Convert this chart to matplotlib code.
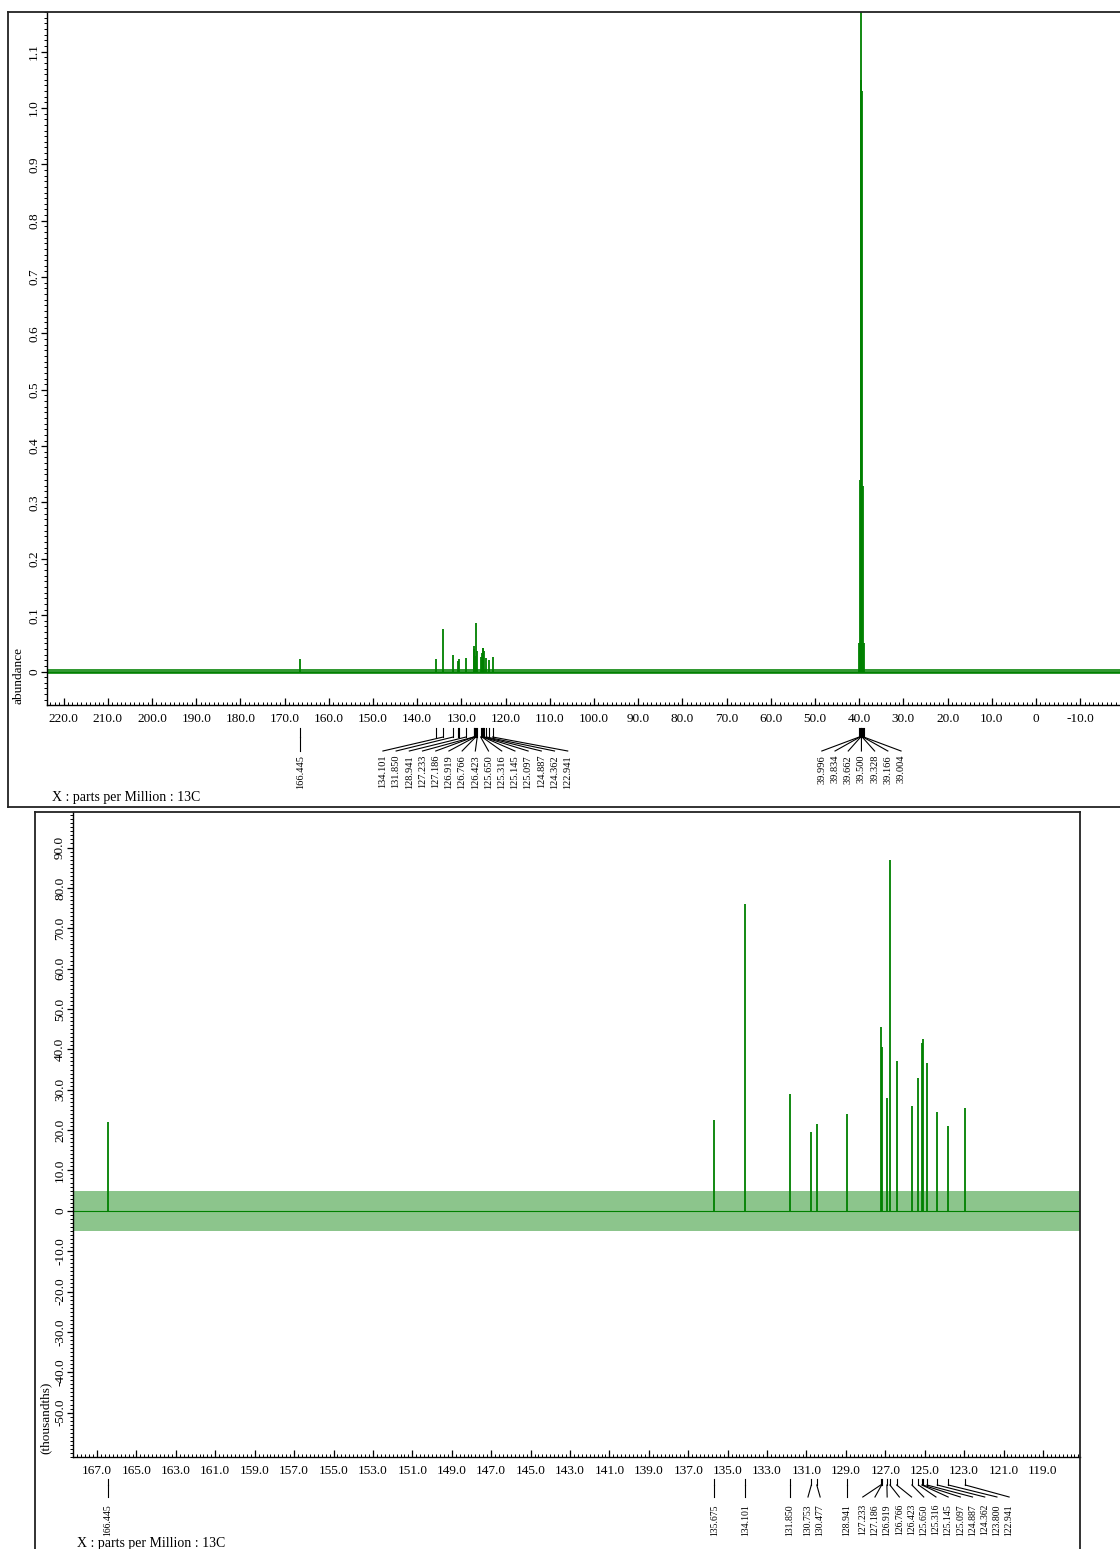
import numpy as np
import matplotlib.pyplot as plt
from matplotlib import transforms
from matplotlib.lines import Line2D
from matplotlib.ticker import MultipleLocator, FixedLocator, FuncFormatter

plt.rcParams['font.family'] = ['Liberation Serif', 'DejaVu Serif']

# 13C peak list (ppm) and peak heights (abundance)
peak_ppm = [166.445, 135.675, 134.101, 131.850, 130.753, 130.477, 128.941,
            127.233, 127.186, 126.919, 126.766, 126.423, 125.650, 125.316,
            125.145, 125.097, 124.887, 124.362, 123.800, 122.941]
peak_height = [0.0220, 0.0225, 0.0760, 0.0290, 0.0195, 0.0215, 0.0240,
               0.0455, 0.0405, 0.0280, 0.0870, 0.0370, 0.0260, 0.0330,
               0.0415, 0.0425, 0.0367, 0.0245, 0.0210, 0.0255]

# DMSO-d6 solvent multiplet
solvent_ppm = [39.996, 39.834, 39.662, 39.500, 39.328, 39.166, 39.004]
solvent_height = [0.05, 0.34, 1.05, 1.35, 1.03, 0.33, 0.05]

# baseline noise half-width (abundance)
noise_level = 0.005

# peaks picked in the full-range view
top_labels = [166.445, 134.101, 131.850, 128.941, 127.233, 127.186, 126.919,
              126.766, 126.423, 125.650, 125.316, 125.145, 125.097, 124.887,
              124.362, 122.941]

W, H = 1120, 1549
green = '#008000'

fig = plt.figure(figsize=(W / 100, H / 100), dpi=100)


def fx(px):
    return px / W


def fy(py):
    return 1 - py / H


def zero_fmt(v, pos):
    if abs(v) < 1e-9:
        return '0'
    return f'{v:.1f}'


def style_axes(ax):
    ax.spines['top'].set_visible(False)
    ax.spines['right'].set_visible(False)
    for s in ('left', 'bottom'):
        ax.spines[s].set_linewidth(1.0)
    ax.tick_params(axis='x', which='both', direction='in', top=False, labelsize=9.5, pad=5.5)
    ax.tick_params(axis='x', which='major', length=5, width=0.9)
    ax.tick_params(axis='x', which='minor', length=2.5, width=0.7)
    ax.tick_params(axis='y', which='both', direction='out', labelsize=9.5, pad=1, labelrotation=90)
    ax.tick_params(axis='y', which='major', length=4, width=0.9)
    ax.tick_params(axis='y', which='minor', length=2.5, width=0.7)
    ax.xaxis.set_major_formatter(FuncFormatter(zero_fmt))
    ax.yaxis.set_major_formatter(FuncFormatter(zero_fmt))
    ax.set_facecolor('none')


def draw_spectrum(ax, scale, band_alpha):
    # noise floor as a band, peaks as sticks
    ax.axhspan(-noise_level * scale, noise_level * scale, color=green, alpha=band_alpha, lw=0)
    ax.axhline(0, color=green, lw=0.8)
    ax.vlines(peak_ppm, 0, np.array(peak_height) * scale, color=green, lw=1.3)
    ax.vlines(solvent_ppm, 0, np.array(solvent_height) * scale, color=green, lw=1.3)


def spread(ppms, gap):
    # spread label positions left to right (ppm decreasing) so they don't overlap
    u = sorted(-p for p in ppms)
    clusters = [[u[0]]]
    for v in u[1:]:
        if v - clusters[-1][-1] < gap:
            clusters[-1].append(v)
        else:
            clusters.append([v])
    out = []
    last = -np.inf
    for c in clusters:
        start = max(np.mean(c) - gap * (len(c) - 1) / 2, last + gap)
        pos = [start + i * gap for i in range(len(c))]
        out += pos
        last = pos[-1]
    return [-p for p in sorted(u)], [-q for q in out]


def annotate(ax, labels, ticks, y0, y1, y2, y3, size, gap):
    tr = transforms.blended_transform_factory(ax.transData, fig.transFigure)
    for p in ticks:
        ax.plot([p, p], [fy(y0), fy(y1)], transform=tr, color='black', lw=0.8, clip_on=False)
    peaks, spots = spread(labels, gap)
    for p, q in zip(peaks, spots):
        ax.plot([p, q], [fy(y1), fy(y2)], transform=tr, color='black', lw=0.8, clip_on=False)
        ax.text(q, fy(y3), f'{p:.3f}', transform=tr, rotation=90, ha='center', va='top',
                fontsize=size)


# full range spectrum
ax1 = fig.add_axes([fx(47), fy(705), fx(1120) - fx(47), fy(12) - fy(705)])
ax1.set_xlim(223.76, -19.0)
ax1.set_ylim(-0.0593, 1.1703)
draw_spectrum(ax1, 1.0, 0.8)
style_axes(ax1)
ax1.xaxis.set_major_locator(MultipleLocator(10))
ax1.xaxis.set_minor_locator(MultipleLocator(1))
ax1.yaxis.set_major_locator(MultipleLocator(0.1))
ax1.yaxis.set_minor_locator(MultipleLocator(0.01))
plt.setp(ax1.get_yticklabels(), va='center')
annotate(ax1, top_labels + solvent_ppm, peak_ppm + solvent_ppm,
         728, 737, 751, 755, 7.5, 13.2 / 4.42)

# aromatic / carbonyl expansion, in thousandths
ax2 = fig.add_axes([fx(73), fy(1457), fx(1080) - fx(73), fy(812) - fy(1457)])
ax2.set_xlim(168.22, 117.12)
ax2.set_ylim(-61.0, 98.8)
draw_spectrum(ax2, 1000.0, 0.45)
style_axes(ax2)
ax2.xaxis.set_major_locator(FixedLocator(np.arange(119, 168, 2)))
ax2.xaxis.set_minor_locator(MultipleLocator(0.2))
ax2.yaxis.set_major_locator(FixedLocator(np.arange(-50, 91, 10)))
ax2.yaxis.set_minor_locator(MultipleLocator(1))
plt.setp(ax2.get_yticklabels(), va='center')
annotate(ax2, peak_ppm, peak_ppm, 1479, 1485, 1497, 1504, 7, 12.2 / 19.71)

# axis captions
fig.text(fx(19), fy(675), 'abundance', rotation=90, ha='center', va='center', fontsize=9.5)
fig.text(fx(46), fy(1418), '(thousandths)', rotation=90, ha='center', va='center', fontsize=9.5)
fig.text(fx(52), fy(798), 'X : parts per Million : 13C', ha='left', va='center', fontsize=10)
fig.text(fx(77), fy(1544), 'X : parts per Million : 13C', ha='left', va='center', fontsize=10)

# panel frames
frame = dict(color='#222222', lw=1.3)
fig.add_artist(Line2D([fx(8), fx(8)], [fy(12), fy(807)], **frame))
fig.add_artist(Line2D([fx(8), fx(1120)], [fy(12), fy(12)], **frame))
fig.add_artist(Line2D([fx(8), fx(1120)], [fy(807), fy(807)], **frame))
fig.add_artist(Line2D([fx(35), fx(35)], [fy(812), fy(1549)], **frame))
fig.add_artist(Line2D([fx(35), fx(1080)], [fy(812), fy(812)], **frame))
fig.add_artist(Line2D([fx(1080), fx(1080)], [fy(812), fy(1549)], **frame))

fig.savefig('out.png', dpi=100)
